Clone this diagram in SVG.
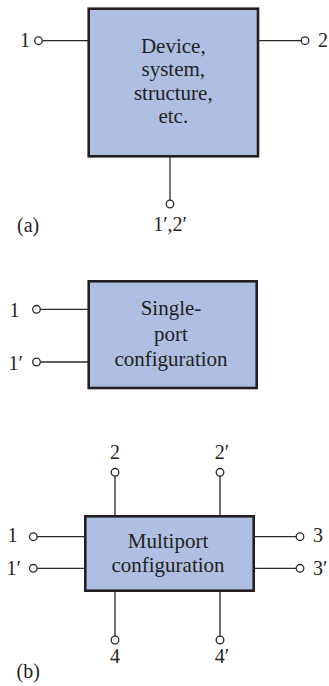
<svg xmlns="http://www.w3.org/2000/svg" width="329" height="686" viewBox="0 0 329 686">
<style>
.box{fill:#aebfe3;stroke:#231f20;stroke-width:2.6}
.lead{stroke:#2a2a2a;stroke-width:1.3;fill:none}
.term{fill:#fff;stroke:#2a2a2a;stroke-width:1.3}
text{font-family:"Liberation Serif","Times New Roman",serif;fill:#231f20}
.lbl{font-size:20px}
.body{font-size:21px;text-anchor:middle}
.mid{text-anchor:middle}
</style>
<rect width="329" height="686" fill="#fff"/>
<g id="connectors">
<line class="lead" x1="42.3" y1="40.7" x2="88.7" y2="40.7"/>
<line class="lead" x1="258" y1="40.7" x2="301.2" y2="40.7"/>
<line class="lead" x1="170" y1="156.3" x2="170" y2="200.2" style="stroke:#555;stroke-width:1.6"/>
<line class="lead" x1="40.3" y1="309.3" x2="88.7" y2="309.3"/>
<line class="lead" x1="40.3" y1="362" x2="88.7" y2="362"/>
<line class="lead" x1="37.1" y1="536.7" x2="85.3" y2="536.7"/>
<line class="lead" x1="37.1" y1="568.3" x2="85.3" y2="568.3"/>
<line class="lead" x1="253.7" y1="536.7" x2="296.2" y2="536.7"/>
<line class="lead" x1="253.7" y1="568.3" x2="296.2" y2="568.3"/>
<line class="lead" x1="115" y1="476.1" x2="115" y2="516.3"/>
<line class="lead" x1="220" y1="476.1" x2="220" y2="516.3"/>
<line class="lead" x1="115" y1="590.7" x2="115" y2="636.2"/>
<line class="lead" x1="220" y1="590.7" x2="220" y2="636.2"/>
</g>
<g id="terminals">
<circle class="term" cx="38.5" cy="40.7" r="3.8"/>
<circle class="term" cx="305" cy="40.7" r="3.8"/>
<circle class="term" cx="170" cy="204" r="3.8"/>
<circle class="term" cx="36.5" cy="309.3" r="3.8"/>
<circle class="term" cx="36.5" cy="362" r="3.8"/>
<circle class="term" cx="33.3" cy="536.7" r="3.8"/>
<circle class="term" cx="33.3" cy="568.3" r="3.8"/>
<circle class="term" cx="300" cy="536.7" r="3.8"/>
<circle class="term" cx="300" cy="568.3" r="3.8"/>
<circle class="term" cx="115" cy="472.3" r="3.8"/>
<circle class="term" cx="220" cy="472.3" r="3.8"/>
<circle class="term" cx="115" cy="640" r="3.8"/>
<circle class="term" cx="220" cy="640" r="3.8"/>
</g>
<g id="device">
<rect class="box" x="88.7" y="8.7" width="169.3" height="147.6"/>
<text class="body" x="173.3" y="52.7">Device,</text>
<text class="body" x="173.3" y="76.3">system,</text>
<text class="body" x="173.3" y="99.8">structure,</text>
<text class="body" x="173.3" y="123.3">etc.</text>
</g>
<g id="single-port">
<rect class="box" x="88.7" y="281.3" width="168" height="106.7"/>
<text class="body" x="171" y="315">Single-</text>
<text class="body" x="171" y="340.5">port</text>
<text class="body" x="171" y="366">configuration</text>
</g>
<g id="multiport">
<rect class="box" x="85.3" y="516.3" width="168.4" height="74.4"/>
<text class="body" x="168" y="548.3">Multiport</text>
<text class="body" x="168" y="572">configuration</text>
</g>
<g id="labels">
<text class="lbl" x="20" y="46.7">1</text>
<text class="lbl" x="318" y="46.7">2</text>
<text class="lbl mid" x="170" y="231">1′,2′</text>
<text class="lbl" x="17" y="231.5">(a)</text>
<text class="lbl" x="9.5" y="316.7">1</text>
<text class="lbl" x="8.5" y="370">1′</text>
<text class="lbl mid" x="115" y="459.3">2</text>
<text class="lbl mid" x="222" y="459.3">2′</text>
<text class="lbl" x="7.5" y="542">1</text>
<text class="lbl" x="6.5" y="575">1′</text>
<text class="lbl" x="313" y="542">3</text>
<text class="lbl" x="313" y="575">3′</text>
<text class="lbl mid" x="115" y="663.3">4</text>
<text class="lbl mid" x="222" y="663.3">4′</text>
<text class="lbl" x="16.5" y="678.3">(b)</text>
</g>
</svg>
